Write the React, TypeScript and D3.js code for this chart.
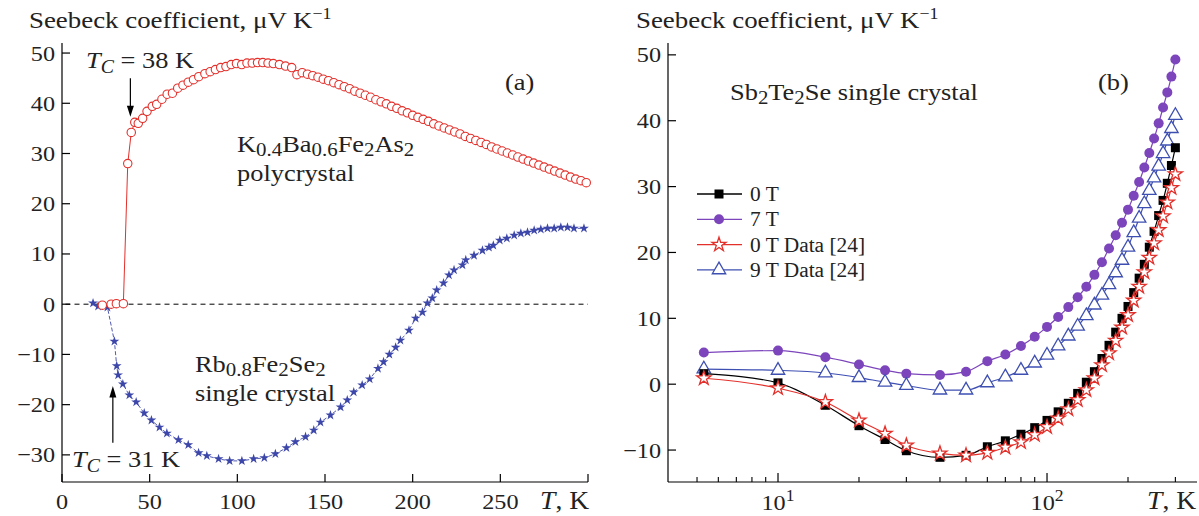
import React from 'react';
import * as d3 from 'd3';

const FONT = '"Liberation Serif", "Times New Roman", serif';

// ---- panel (a): K0.4Ba0.6Fe2As2 polycrystal (open red circles)
const kbaT = [23, 28, 31, 35, 37.5, 39.5, 41.5, 43.5, 46, 48.5, 51.5, 54, 57, 60, 63, 66, 69, 72, 75, 78,
  81.5, 84.5, 87.5, 90.5, 93.5, 96.5, 99.5, 102.5, 105.5, 108.5, 111.5, 114.5, 117.5, 120.5, 124, 127.5, 131, 134,
  137, 140, 143, 146, 149, 152, 155, 158, 161, 164, 167, 170, 173, 176, 179, 182, 185, 188, 191, 194, 197,
  200, 203, 206, 209, 212, 215, 218, 221, 224, 227, 230, 233, 236, 239, 242, 245, 248, 251, 254, 257,
  260, 263, 266, 269, 272, 275, 278, 281, 284, 287, 290, 293, 296, 299];
const kbaS = [-0.2, 0, 0.1, 0.1, 28, 34.2, 36.2, 36.0, 37.0, 38.4, 39.4, 39.8, 40.8, 41.8, 42.0, 43.0, 43.6, 44.2, 44.7, 45.3,
  45.9, 46.3, 46.7, 47.1, 47.3, 47.7, 47.9, 47.7, 48.0, 48.0, 48.1, 48.1, 48.0, 47.9, 47.7, 47.4, 47.1, 45.7,
  46.1, 45.8, 45.5, 45.2, 44.8, 44.5, 44.1, 43.7, 43.3, 42.9, 42.4, 42.0, 41.6, 41.2, 40.7, 40.3, 39.9, 39.4, 39.0, 38.5, 38.1,
  37.6, 37.2, 36.8, 36.4, 35.9, 35.5, 35.1, 34.7, 34.3, 33.9, 33.4, 33.0, 32.6, 32.2, 31.8, 31.3, 30.9, 30.5, 30.1, 29.7,
  29.3, 28.9, 28.5, 28.1, 27.7, 27.3, 26.9, 26.5, 26.1, 25.7, 25.3, 24.9, 24.6, 24.2];

// ---- panel (a): Rb0.8Fe2Se2 single crystal (blue stars)
const rbT = [17.7, 20.6, 25.9, 29.9, 31.2, 32, 34.7, 38.4, 42.3, 46.9, 51, 55.6, 59.8, 66.4, 72, 77.9, 82.6, 89.3,
  95.6, 102.6, 109.3, 115.4, 121.7, 128, 133.1, 138.9, 143.6, 147.4, 153.1, 158.9, 162.7, 166.4, 171.2, 175.5,
  180.2, 183.4, 186.7, 190.3, 193, 197.9, 201.7, 205.6, 208.4, 211.2, 213.7, 217.6, 220.7, 223.6, 228.4, 230.3,
  235, 239.8, 243.5, 246, 249.7, 253.7, 257.9, 261.7, 265.5, 269.3, 273.1, 276.9, 280.7, 284.5, 288.3, 292, 297.7];
const rbS = [0.2, -0.4, -0.6, -7.4, -12.3, -14.1, -15.9, -18.1, -19.5, -21.7, -23.1, -24.5, -25.7, -27.0, -28.0, -29.6, -30.2, -30.8,
  -31.2, -31.2, -30.8, -30.6, -29.8, -28.6, -27.4, -26.4, -25.1, -23.5, -22.1, -20.5, -19.1, -17.5, -16.1, -14.9,
  -12.8, -11.5, -10.0, -8.6, -7.2, -5.2, -2.8, -1.6, 0.2, 1.2, 2.8, 4.2, 5.8, 6.8, 7.8, 8.8,
  9.7, 10.7, 11.3, 11.7, 12.7, 13.1, 13.7, 14.1, 14.3, 14.7, 14.9, 15.1, 15.1, 15.3, 15.3, 15.1, 15.1];

const aTicksX = [0, 50, 100, 150, 200, 250];
const aTicksY = [-30, -20, -10, 0, 10, 20, 30, 40, 50];

// ---- panel (b): Sb2Te2Se single crystal
const bT = [5.3, 10, 15, 20, 25, 30, 40, 50, 60, 70, 80, 90, 100, 110, 120, 130, 140, 150, 160, 170, 180, 190,
  200, 210, 220, 230, 240, 250, 260, 270, 280, 290, 300];
const s0T = [1.6, 0.2, -3.2, -6.3, -8.4, -10.1, -11.1, -10.8, -9.5, -8.6, -7.6, -6.6, -5.5, -4.2, -2.9, -1.4, 0.3, 1.9,
  3.9, 5.9, 7.9, 10.0, 11.8, 13.9, 16.1, 18.2, 20.8, 23.2, 25.6, 27.9, 30.5, 33.2, 35.9];
const s7T = [4.8, 5.1, 4.1, 3.0, 2.1, 1.6, 1.4, 1.9, 3.5, 4.5, 5.8, 7.2, 8.7, 10.2, 11.7, 13.2, 14.8, 16.6,
  18.5, 20.6, 22.6, 24.5, 26.5, 28.6, 30.7, 32.9, 35.1, 37.3, 39.6, 42.0, 44.3, 46.7, 49.3];
const s0TData = [0.9, -0.6, -2.7, -5.5, -7.5, -9.3, -10.5, -10.8, -10.4, -9.6, -8.8, -7.7, -6.5, -5.2, -3.8, -2.4, -0.9, 0.9,
  2.9, 4.7, 6.6, 8.6, 10.5, 12.7, 14.8, 17.0, 19.2, 21.4, 23.4, 25.5, 27.6, 29.8, 31.9];
const s9TData = [2.3, 2.1, 1.7, 1.0, 0.3, -0.2, -0.9, -0.9, 0.2, 1.1, 2.1, 3.2, 4.4, 5.8, 7.3, 8.8, 10.4, 12.0,
  13.5, 15.1, 16.9, 18.8, 20.8, 23.0, 25.2, 27.4, 29.4, 31.3, 33.1, 35.0, 36.9, 38.8, 40.8];

const bTicksY = [-10, 0, 10, 20, 30, 40, 50];
const bMajorX = [10, 100];
const bMinorX = [5, 6, 7, 8, 9, 20, 30, 40, 50, 60, 70, 80, 90, 200, 300];

const RED = '#e3302b';
const BLUE = '#3d47a9';
const PURPLE = '#7c45bc';
const TRI = '#3e4fb2';

const starPath = (size: number) => d3.symbol(d3.symbolStar, size)() as string;
const triPath = (size: number) => d3.symbol(d3.symbolTriangle, size)() as string;

// the original typesetting is a bit wider than Liberation Serif, so stretch text horizontally
const Txt = ({ x, y, size, sx = 1.1, anchor = 'start', children }:
  { x: number; y: number; size: number; sx?: number; anchor?: string; children: React.ReactNode }) => (
  <text transform={`translate(${x},${y}) scale(${sx},1)`} fontSize={size} textAnchor={anchor as any}>{children}</text>
);

const Sub = ({ children }: { children: React.ReactNode }) => (
  <tspan fontSize={19} dy={4}>{children}</tspan>
);
const Back = ({ children }: { children: React.ReactNode }) => <tspan dy={-4}>{children}</tspan>;

const fmt = (v: number) => (v < 0 ? '−' + Math.abs(v) : String(v));

export default function App() {
  const W = 1199;
  const H = 516;

  const xa = d3.scaleLinear().domain([0, 300]).range([62, 588]);
  const ya = d3.scaleLinear().domain([-35.4, 52]).range([482, 43]);
  const xb = d3.scaleLog().domain([3.9, 361]).range([668, 1197]);
  const yb = d3.scaleLinear().domain([-14.85, 51.8]).range([482, 43]);

  const lineA = d3.line<[number, number]>().x(d => xa(d[0])).y(d => ya(d[1]));
  const lineB = d3.line<[number, number]>().x(d => xb(d[0])).y(d => yb(d[1])).curve(d3.curveMonotoneX);

  const kba = kbaT.map((t, i) => [t, kbaS[i]] as [number, number]);
  const rb = rbT.map((t, i) => [t, rbS[i]] as [number, number]);
  const b0 = bT.map((t, i) => [t, s0T[i]] as [number, number]);
  const b7 = bT.map((t, i) => [t, s7T[i]] as [number, number]);
  const b0d = bT.map((t, i) => [t, s0TData[i]] as [number, number]);
  const b9d = bT.map((t, i) => [t, s9TData[i]] as [number, number]);

  const starA = starPath(30);
  const starB = starPath(62);
  const tri = triPath(78);

  const legend = [
    { label: '0 T', color: '#000', mark: 'square' },
    { label: '7 T', color: PURPLE, mark: 'circle' },
    { label: '0 T Data [24]', color: RED, mark: 'star' },
    { label: '9 T Data [24]', color: TRI, mark: 'tri' },
  ];

  const marker = (mark: string, color: string, key: string | number, x: number, y: number) => {
    if (mark === 'square') return <rect key={key} x={x - 4.5} y={y - 4.5} width={9} height={9} fill="#000" />;
    if (mark === 'circle') return <circle key={key} cx={x} cy={y} r={5} fill={color} />;
    if (mark === 'star') return <path key={key} d={starB} transform={`translate(${x},${y})`} fill="#fff" stroke={color} strokeWidth={1.3} />;
    return <path key={key} d={tri} transform={`translate(${x},${y})`} fill="#fff" stroke={color} strokeWidth={1.3} />;
  };

  const title = (
    <>Seebeck coefficient, μV K<tspan fontSize={16} dy={-9}>−1</tspan></>
  );

  return (
    <div style={{ position: 'absolute', left: 0, top: 0 }}>
      <svg width={W} height={H} style={{ display: 'block', background: '#fff' }} fontFamily={FONT} fill="#222">
        {/* ================= panel (a) ================= */}
        <Txt x={29} y={28} size={24} sx={1.12}>{title}</Txt>
        <line x1={xa(0)} x2={xa(0)} y1={ya(52)} y2={ya(-35.4)} stroke="#000" strokeWidth={1.2} />
        <line x1={xa(0)} x2={xa(300)} y1={ya(-35.4)} y2={ya(-35.4)} stroke="#000" strokeWidth={1.2} />
        {aTicksY.map(v => (
          <g key={'ay' + v}>
            <line x1={xa(0)} x2={xa(0) + 8} y1={ya(v)} y2={ya(v)} stroke="#000" strokeWidth={1.2} />
            <Txt x={xa(0) - 7} y={ya(v) + 7.5} size={22} anchor="end">{fmt(v)}</Txt>
          </g>
        ))}
        {[...aTicksX, 300].map(v => (
          <line key={'axt' + v} x1={xa(v)} x2={xa(v)} y1={ya(-35.4)} y2={ya(-35.4) - 8} stroke="#000" strokeWidth={1.2} />
        ))}
        {aTicksX.map(v => (
          <Txt key={'axl' + v} x={xa(v)} y={509} size={22} anchor="middle">{v}</Txt>
        ))}
        <Txt x={xa(300) + 1} y={509} size={25} anchor="end"><tspan fontStyle="italic">T</tspan>, K</Txt>

        {/* zero line */}
        <line x1={xa(2)} x2={xa(300)} y1={ya(0)} y2={ya(0)} stroke="#000" strokeWidth={1} strokeDasharray="5,4" />

        {/* Rb0.8Fe2Se2 */}
        <path d={lineA(rb) || ''} fill="none" stroke={BLUE} strokeWidth={0.9} strokeDasharray="4,2" />
        {rb.map((d, i) => (
          <path key={'rb' + i} d={starA} transform={`translate(${xa(d[0])},${ya(d[1])})`} fill={BLUE} />
        ))}

        {/* K0.4Ba0.6Fe2As2 */}
        <path d={lineA(kba) || ''} fill="none" stroke={RED} strokeWidth={1} />
        {kba.map((d, i) => (
          <circle key={'kb' + i} cx={xa(d[0])} cy={ya(d[1])} r={4.2} fill="#fff" stroke={RED} strokeWidth={1.1} />
        ))}

        {/* annotations */}
        <Txt x={86} y={68} size={24}>
          <tspan fontStyle="italic">T</tspan><tspan fontStyle="italic" fontSize={18} dy={5}>C</tspan><tspan dy={-5}> = 38 K</tspan>
        </Txt>
        <line x1={xa(39)} x2={xa(39)} y1={ya(45)} y2={ya(38.5)} stroke="#000" strokeWidth={1.2} />
        <path d={`M${xa(39) - 3.5},${ya(39.5)} L${xa(39) + 3.5},${ya(39.5)} L${xa(39)},${ya(37.3)} Z`} fill="#000" />

        <Txt x={72} y={467} size={24}>
          <tspan fontStyle="italic">T</tspan><tspan fontStyle="italic" fontSize={18} dy={5}>C</tspan><tspan dy={-5}> = 31 K</tspan>
        </Txt>
        <line x1={xa(29)} x2={xa(29)} y1={ya(-27.6)} y2={ya(-17.5)} stroke="#000" strokeWidth={1.2} />
        <path d={`M${xa(29) - 3.5},${ya(-18.6)} L${xa(29) + 3.5},${ya(-18.6)} L${xa(29)},${ya(-16.3)} Z`} fill="#000" />

        <Txt x={505} y={90} size={24}>(a)</Txt>

        <Txt x={237} y={152} size={24}>
          K<Sub>0.4</Sub><Back>Ba</Back><Sub>0.6</Sub><Back>Fe</Back><Sub>2</Sub><Back>As</Back><Sub>2</Sub>
        </Txt>
        <Txt x={237} y={181} size={24}>polycrystal</Txt>

        <Txt x={195} y={372} size={24}>
          Rb<Sub>0.8</Sub><Back>Fe</Back><Sub>2</Sub><Back>Se</Back><Sub>2</Sub>
        </Txt>
        <Txt x={195} y={401} size={24}>single crystal</Txt>

        {/* ================= panel (b) ================= */}
        <Txt x={636} y={28} size={24} sx={1.12}>{title}</Txt>
        <line x1={xb(3.9)} x2={xb(3.9)} y1={yb(51.8)} y2={yb(-14.85)} stroke="#000" strokeWidth={1.2} />
        <line x1={xb(3.9)} x2={xb(361)} y1={yb(-14.85)} y2={yb(-14.85)} stroke="#000" strokeWidth={1.2} />
        {bTicksY.map(v => (
          <g key={'by' + v}>
            <line x1={xb(3.9)} x2={xb(3.9) + 8} y1={yb(v)} y2={yb(v)} stroke="#000" strokeWidth={1.2} />
            <Txt x={xb(3.9) - 7} y={yb(v) + 7.5} size={22} anchor="end">{fmt(v)}</Txt>
          </g>
        ))}
        {bMajorX.map(v => (
          <g key={'bxM' + v}>
            <line x1={xb(v)} x2={xb(v)} y1={yb(-14.85)} y2={yb(-14.85) - 9} stroke="#000" strokeWidth={1.2} />
            <Txt x={xb(v)} y={510} size={22} anchor="middle">
              10<tspan fontSize={16} dy={-9}>{Math.log10(v)}</tspan>
            </Txt>
          </g>
        ))}
        {bMinorX.map(v => (
          <line key={'bxm' + v} x1={xb(v)} x2={xb(v)} y1={yb(-14.85)} y2={yb(-14.85) - 5} stroke="#000" strokeWidth={1.1} />
        ))}
        <Txt x={1196} y={509} size={25} anchor="end"><tspan fontStyle="italic">T</tspan>, K</Txt>

        {/* series */}
        <path d={lineB(b7) || ''} fill="none" stroke={PURPLE} strokeWidth={1.2} />
        {b7.map((d, i) => marker('circle', PURPLE, 'p' + i, xb(d[0]), yb(d[1])))}

        <path d={lineB(b9d) || ''} fill="none" stroke={TRI} strokeWidth={1.2} />
        {b9d.map((d, i) => marker('tri', TRI, 't' + i, xb(d[0]), yb(d[1])))}

        <path d={lineB(b0) || ''} fill="none" stroke="#000" strokeWidth={1.2} />
        {b0.map((d, i) => marker('square', '#000', 's' + i, xb(d[0]), yb(d[1])))}

        <path d={lineB(b0d) || ''} fill="none" stroke={RED} strokeWidth={1.2} />
        {b0d.map((d, i) => marker('star', RED, 'r' + i, xb(d[0]), yb(d[1])))}

        {/* legend */}
        {legend.map((l, i) => {
          const y = 194 + i * 25.3;
          return (
            <g key={'lg' + i}>
              <line x1={697} x2={742} y1={y} y2={y} stroke={l.color} strokeWidth={1.3} />
              {marker(l.mark, l.color, 'lm' + i, 719, y)}
              <Txt x={750} y={y + 7} size={20} sx={1.07}>{l.label}</Txt>
            </g>
          );
        })}

        <Txt x={730} y={100} size={24}>
          Sb<Sub>2</Sub><Back>Te</Back><Sub>2</Sub><Back>Se single crystal</Back>
        </Txt>
        <Txt x={1098} y={90} size={24}>(b)</Txt>
      </svg>
    </div>
  );
}
